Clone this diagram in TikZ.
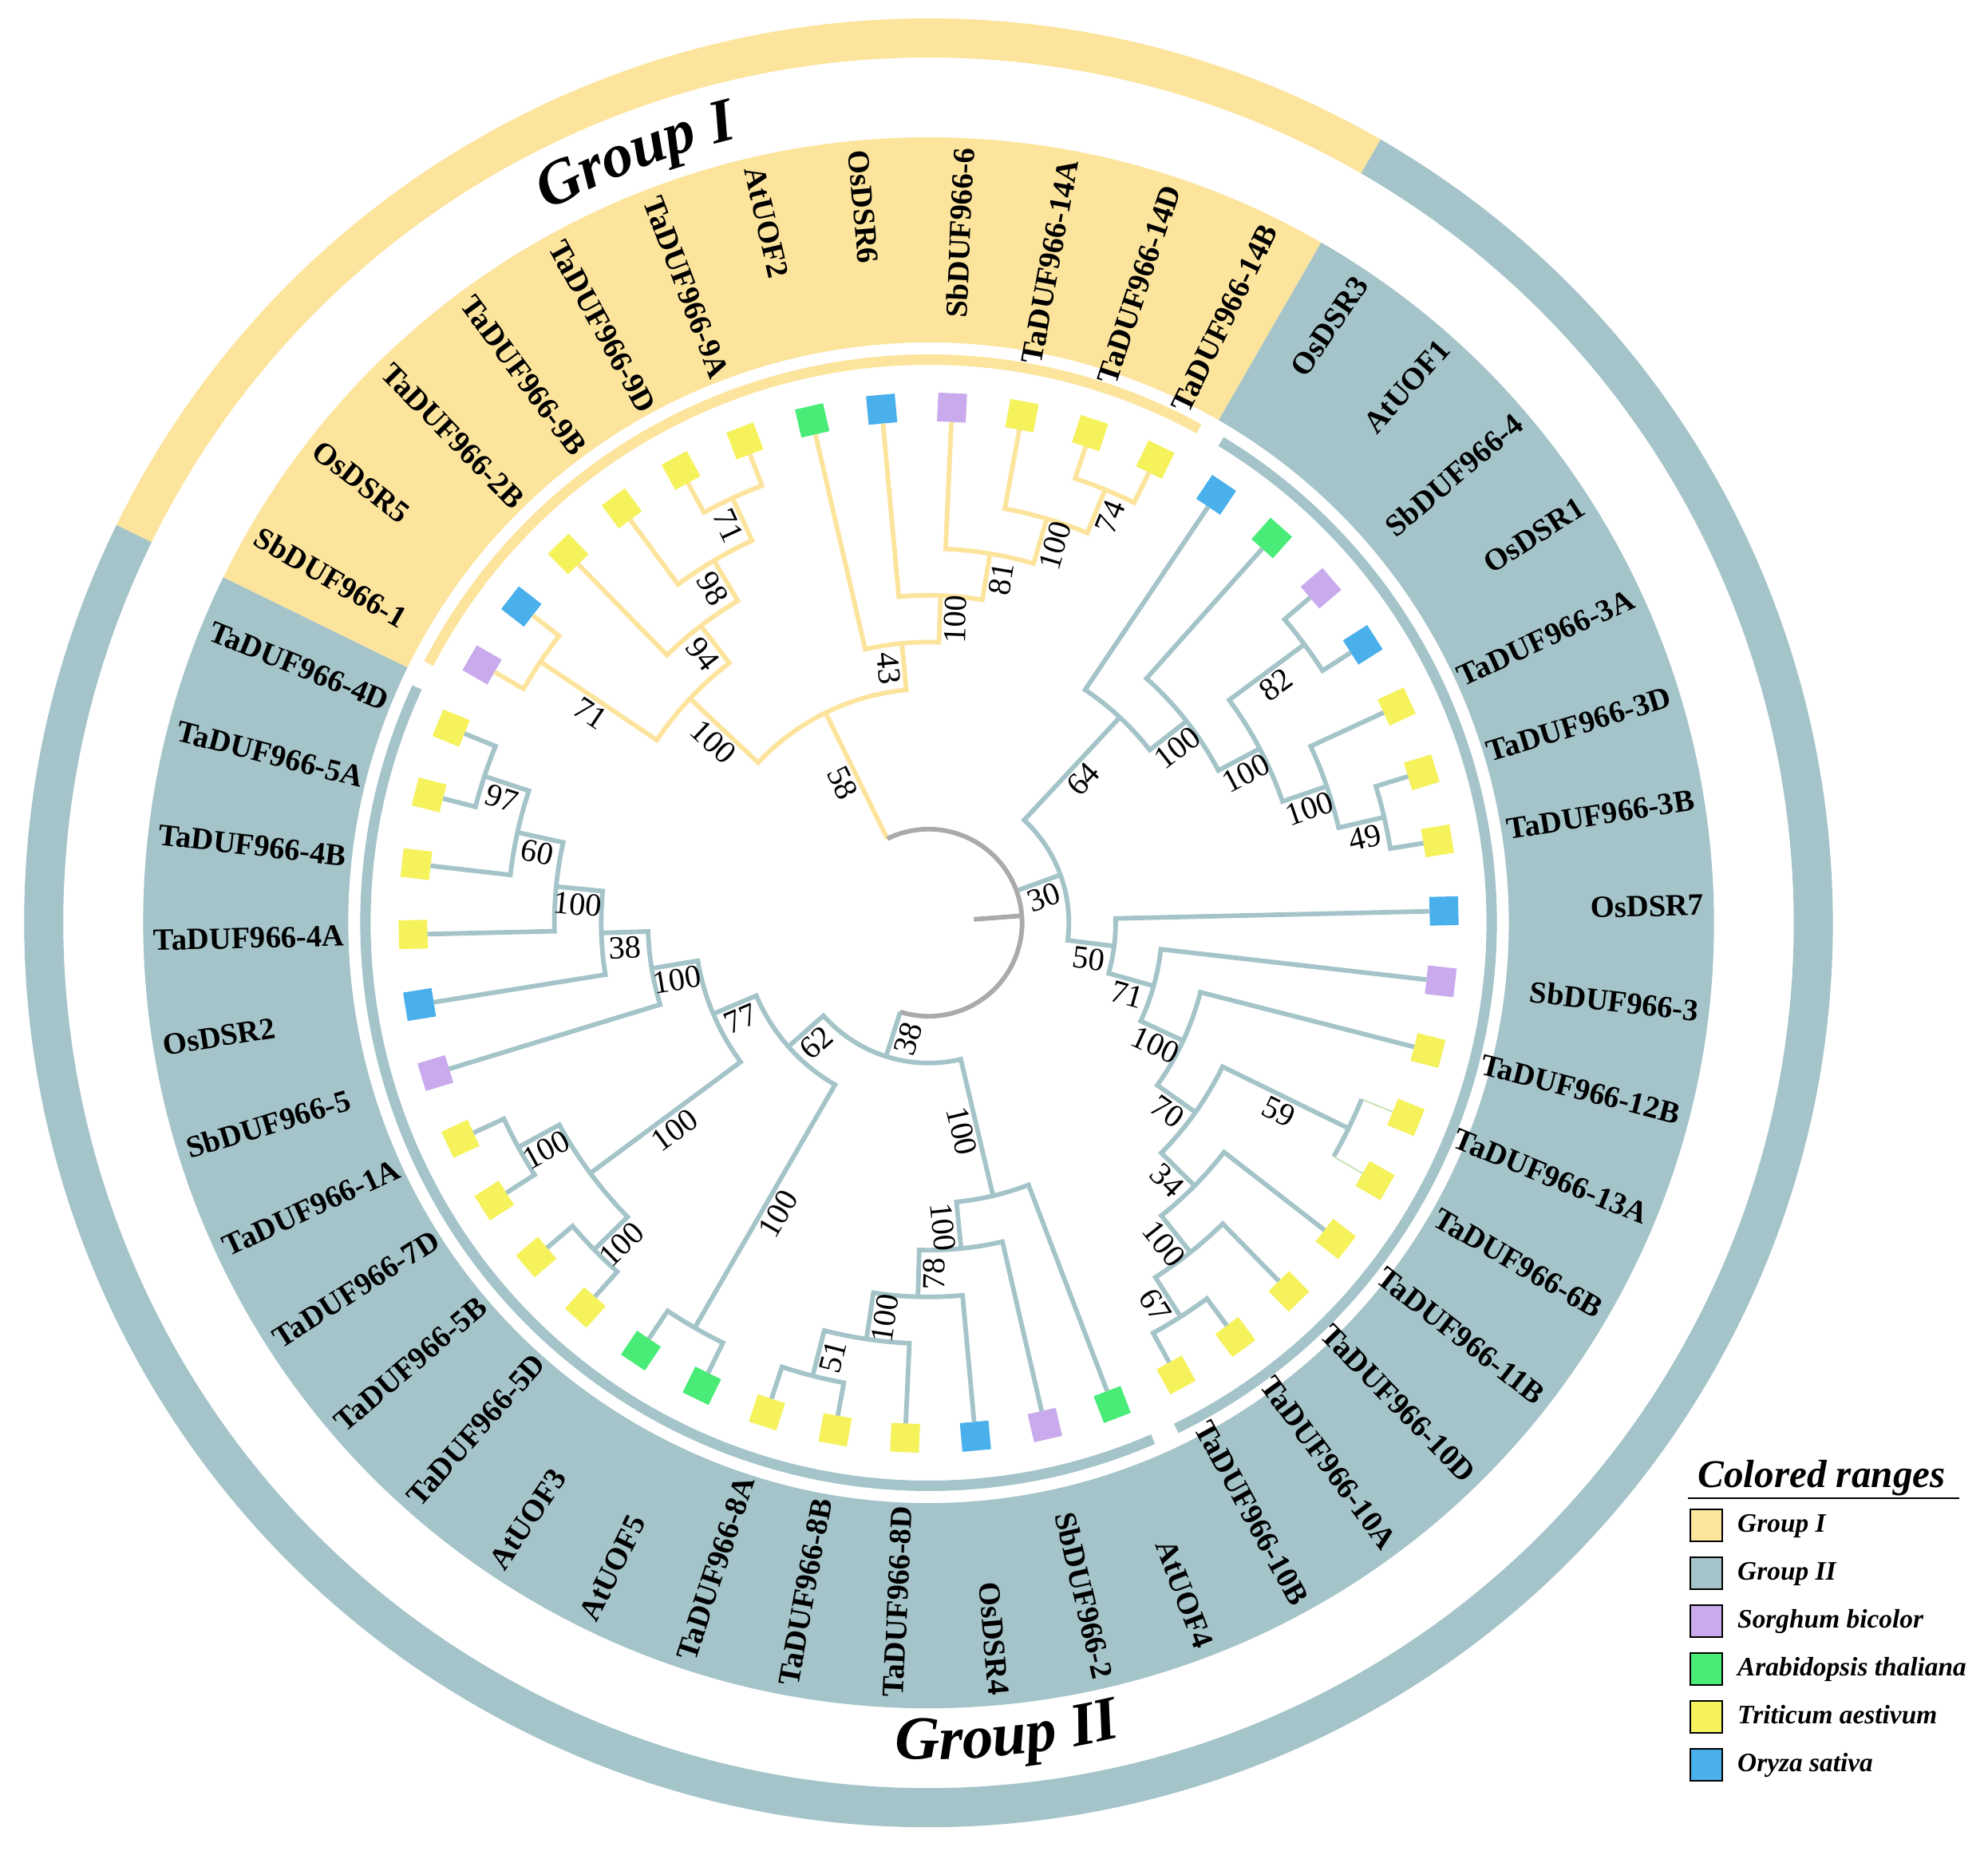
\documentclass[tikz,border=0pt]{standalone}
\usepackage{fontspec}
\setmainfont{Liberation Serif}
\usetikzlibrary{decorations.text}
\definecolor{grpone}{RGB}{253,228,157}
\definecolor{grptwo}{RGB}{164,196,201}
\definecolor{rootgray}{RGB}{170,170,170}
\definecolor{spSb}{RGB}{201,170,236}
\definecolor{spAt}{RGB}{73,236,118}
\definecolor{spTa}{RGB}{245,242,92}
\definecolor{spOs}{RGB}{73,176,236}
\definecolor{palegreen}{RGB}{196,226,178}
\newcommand{\grpfont}{\fontsize{22}{26}\selectfont\bfseries\itshape}

\begin{document}
\begin{tikzpicture}[
        g1/.style={draw=grpone, line width=1.65pt},
        g2/.style={draw=grptwo, line width=1.65pt},
        rootln/.style={draw=rootgray, line width=1.65pt},
        leafsq/.style={minimum size=0.36cm, inner sep=0pt, outer sep=0pt},
        lblR/.style={font=\fontsize{11}{12}\selectfont\bfseries, anchor=east, inner sep=0pt},
        lblL/.style={font=\fontsize{11}{12}\selectfont\bfseries, anchor=west, inner sep=0pt},
        bs/.style={font=\fontsize{11.5}{13}\selectfont, midway, sloped, below, inner sep=0.8pt},
        lgbox/.style={draw=black, line width=0.8pt, minimum size=0.4cm, inner sep=0pt},
        lgtext/.style={font=\fontsize{9.5}{11}\selectfont\bfseries\itshape, anchor=base west, inner sep=0pt}
    ]
        \fill[white] (-11.635,-11.68) rectangle (13.275,11.56);
        \useasboundingbox (-11.635,-11.68) rectangle (13.275,11.56);

        \draw[grpone, line width=0.49cm] (60:11.085) arc[start angle=60, end angle=153.913, radius=11.085];
        \draw[grptwo, line width=0.49cm] (153.913:11.085) arc[start angle=153.913, end angle=420, radius=11.085];
        \fill[grpone] (60:7.27) arc[start angle=60, end angle=153.913, radius=7.27] -- (153.913:9.84) arc[start angle=153.913, end angle=60, radius=9.84] -- cycle;
        \fill[grptwo] (153.913:7.27) arc[start angle=153.913, end angle=420, radius=7.27] -- (420:9.84) arc[start angle=420, end angle=153.913, radius=9.84] -- cycle;
        \draw[grpone, line width=0.13cm] (61.3:7.055) arc[start angle=61.3, end angle=152.6, radius=7.055];
        \draw[grptwo, line width=0.13cm] (155.3:7.055) arc[start angle=155.3, end angle=293.5, radius=7.055];
        \draw[grptwo, line width=0.13cm] (296.1:7.055) arc[start angle=296.1, end angle=418.7, radius=7.055];

        \path[decorate, decoration={text along path, text align=center, text={|\grpfont|Group I}}] (140:10.12) arc[start angle=140, end angle=81.8, radius=10.12];
        \path[decorate, decoration={text along path, text align=center, text={|\grpfont|Group II}}] (245:10.48) arc[start angle=245, end angle=306, radius=10.48];

        \node[leafsq, fill=spSb, rotate=150] (sb1) at (150:6.46) {}; \node[lblL, rotate=330] (sb1t) at (150:9.72) {SbDUF966-1};
        \node[leafsq, fill=spOs, rotate=142.174] (os5) at (142.174:6.46) {}; \node[lblL, rotate=322.174] (os5t) at (142.174:9.72) {OsDSR5};
        \node[leafsq, fill=spTa, rotate=134.348] (ta2b) at (134.348:6.46) {}; \node[lblL, rotate=314.348] (ta2bt) at (134.348:9.72) {TaDUF966-2B};
        \node[leafsq, fill=spTa, rotate=126.522] (ta9b) at (126.522:6.46) {}; \node[lblL, rotate=306.522] (ta9bt) at (126.522:9.72) {TaDUF966-9B};
        \node[leafsq, fill=spTa, rotate=118.696] (ta9d) at (118.696:6.46) {}; \node[lblL, rotate=298.696] (ta9dt) at (118.696:9.72) {TaDUF966-9D};
        \node[leafsq, fill=spTa, rotate=110.870] (ta9a) at (110.870:6.46) {}; \node[lblL, rotate=290.870] (ta9at) at (110.870:9.72) {TaDUF966-9A};
        \node[leafsq, fill=spAt, rotate=103.043] (at2) at (103.043:6.46) {}; \node[lblL, rotate=283.043] (at2t) at (103.043:9.72) {AtUOF2};
        \node[leafsq, fill=spOs, rotate=95.217] (os6) at (95.217:6.46) {}; \node[lblL, rotate=275.217] (os6t) at (95.217:9.72) {OsDSR6};
        \node[leafsq, fill=spSb, rotate=87.391] (sb6) at (87.391:6.46) {}; \node[lblR, rotate=87.391] (sb6t) at (87.391:9.72) {SbDUF966-6};
        \node[leafsq, fill=spTa, rotate=79.565] (ta14a) at (79.565:6.46) {}; \node[lblR, rotate=79.565] (ta14at) at (79.565:9.72) {TaDUF966-14A};
        \node[leafsq, fill=spTa, rotate=71.739] (ta14d) at (71.739:6.46) {}; \node[lblR, rotate=71.739] (ta14dt) at (71.739:9.72) {TaDUF966-14D};
        \node[leafsq, fill=spTa, rotate=63.913] (ta14b) at (63.913:6.46) {}; \node[lblR, rotate=63.913] (ta14bt) at (63.913:9.72) {TaDUF966-14B};
        \node[leafsq, fill=spOs, rotate=56.087] (os3) at (56.087:6.46) {}; \node[lblR, rotate=56.087] (os3t) at (56.087:9.72) {OsDSR3};
        \node[leafsq, fill=spAt, rotate=48.261] (at1) at (48.261:6.46) {}; \node[lblR, rotate=48.261] (at1t) at (48.261:9.72) {AtUOF1};
        \node[leafsq, fill=spSb, rotate=40.435] (sb4) at (40.435:6.46) {}; \node[lblR, rotate=40.435] (sb4t) at (40.435:9.72) {SbDUF966-4};
        \node[leafsq, fill=spOs, rotate=32.609] (os1) at (32.609:6.46) {}; \node[lblR, rotate=32.609] (os1t) at (32.609:9.72) {OsDSR1};
        \node[leafsq, fill=spTa, rotate=24.783] (ta3a) at (24.783:6.46) {}; \node[lblR, rotate=24.783] (ta3at) at (24.783:9.72) {TaDUF966-3A};
        \node[leafsq, fill=spTa, rotate=16.957] (ta3d) at (16.957:6.46) {}; \node[lblR, rotate=16.957] (ta3dt) at (16.957:9.72) {TaDUF966-3D};
        \node[leafsq, fill=spTa, rotate=9.130] (ta3b) at (9.130:6.46) {}; \node[lblR, rotate=9.130] (ta3bt) at (9.130:9.72) {TaDUF966-3B};
        \node[leafsq, fill=spOs, rotate=1.304] (os7) at (1.304:6.46) {}; \node[lblR, rotate=1.304] (os7t) at (1.304:9.72) {OsDSR7};
        \node[leafsq, fill=spSb, rotate=-6.522] (sb3) at (-6.522:6.46) {}; \node[lblR, rotate=-6.522] (sb3t) at (-6.522:9.72) {SbDUF966-3};
        \node[leafsq, fill=spTa, rotate=-14.348] (ta12b) at (-14.348:6.46) {}; \node[lblR, rotate=-14.348] (ta12bt) at (-14.348:9.72) {TaDUF966-12B};
        \node[leafsq, fill=spTa, rotate=-22.174] (ta13a) at (-22.174:6.46) {}; \node[lblR, rotate=-22.174] (ta13at) at (-22.174:9.72) {TaDUF966-13A};
        \node[leafsq, fill=spTa, rotate=-30] (ta6b) at (-30:6.46) {}; \node[lblR, rotate=-30] (ta6bt) at (-30:9.72) {TaDUF966-6B};
        \node[leafsq, fill=spTa, rotate=-37.826] (ta11b) at (-37.826:6.46) {}; \node[lblR, rotate=-37.826] (ta11bt) at (-37.826:9.72) {TaDUF966-11B};
        \node[leafsq, fill=spTa, rotate=-45.652] (ta10d) at (-45.652:6.46) {}; \node[lblR, rotate=-45.652] (ta10dt) at (-45.652:9.72) {TaDUF966-10D};
        \node[leafsq, fill=spTa, rotate=-53.478] (ta10a) at (-53.478:6.46) {}; \node[lblR, rotate=-53.478] (ta10at) at (-53.478:9.72) {TaDUF966-10A};
        \node[leafsq, fill=spTa, rotate=-61.304] (ta10b) at (-61.304:6.46) {}; \node[lblR, rotate=-61.304] (ta10bt) at (-61.304:9.72) {TaDUF966-10B};
        \node[leafsq, fill=spAt, rotate=-69.130] (at4) at (-69.130:6.46) {}; \node[lblR, rotate=-69.130] (at4t) at (-69.130:9.72) {AtUOF4};
        \node[leafsq, fill=spSb, rotate=-76.957] (sb2) at (-76.957:6.46) {}; \node[lblR, rotate=-76.957] (sb2t) at (-76.957:9.72) {SbDUF966-2};
        \node[leafsq, fill=spOs, rotate=-84.783] (os4) at (-84.783:6.46) {}; \node[lblR, rotate=-84.783] (os4t) at (-84.783:9.72) {OsDSR4};
        \node[leafsq, fill=spTa, rotate=-92.609] (ta8d) at (-92.609:6.46) {}; \node[lblL, rotate=87.391] (ta8dt) at (-92.609:9.72) {TaDUF966-8D};
        \node[leafsq, fill=spTa, rotate=-100.435] (ta8b) at (-100.435:6.46) {}; \node[lblL, rotate=79.565] (ta8bt) at (-100.435:9.72) {TaDUF966-8B};
        \node[leafsq, fill=spTa, rotate=-108.261] (ta8a) at (-108.261:6.46) {}; \node[lblL, rotate=71.739] (ta8at) at (-108.261:9.72) {TaDUF966-8A};
        \node[leafsq, fill=spAt, rotate=-116.087] (at5) at (-116.087:6.46) {}; \node[lblL, rotate=63.913] (at5t) at (-116.087:9.72) {AtUOF5};
        \node[leafsq, fill=spAt, rotate=-123.913] (at3) at (-123.913:6.46) {}; \node[lblL, rotate=56.087] (at3t) at (-123.913:9.72) {AtUOF3};
        \node[leafsq, fill=spTa, rotate=-131.739] (ta5d) at (-131.739:6.46) {}; \node[lblL, rotate=48.261] (ta5dt) at (-131.739:9.72) {TaDUF966-5D};
        \node[leafsq, fill=spTa, rotate=-139.565] (ta5b) at (-139.565:6.46) {}; \node[lblL, rotate=40.435] (ta5bt) at (-139.565:9.72) {TaDUF966-5B};
        \node[leafsq, fill=spTa, rotate=-147.391] (ta7d) at (-147.391:6.46) {}; \node[lblL, rotate=32.609] (ta7dt) at (-147.391:9.72) {TaDUF966-7D};
        \node[leafsq, fill=spTa, rotate=-155.217] (ta1a) at (-155.217:6.46) {}; \node[lblL, rotate=24.783] (ta1at) at (-155.217:9.72) {TaDUF966-1A};
        \node[leafsq, fill=spSb, rotate=-163.043] (sb5) at (-163.043:6.46) {}; \node[lblL, rotate=16.957] (sb5t) at (-163.043:9.72) {SbDUF966-5};
        \node[leafsq, fill=spOs, rotate=-170.870] (os2) at (-170.870:6.46) {}; \node[lblL, rotate=9.130] (os2t) at (-170.870:9.72) {OsDSR2};
        \node[leafsq, fill=spTa, rotate=-178.696] (ta4a) at (-178.696:6.46) {}; \node[lblL, rotate=1.304] (ta4at) at (-178.696:9.72) {TaDUF966-4A};
        \node[leafsq, fill=spTa, rotate=-186.522] (ta4b) at (-186.522:6.46) {}; \node[lblL, rotate=-6.522] (ta4bt) at (-186.522:9.72) {TaDUF966-4B};
        \node[leafsq, fill=spTa, rotate=-194.348] (ta5a) at (-194.348:6.46) {}; \node[lblL, rotate=-14.348] (ta5at) at (-194.348:9.72) {TaDUF966-5A};
        \node[leafsq, fill=spTa, rotate=-202.174] (ta4d) at (-202.174:6.46) {}; \node[lblL, rotate=-22.174] (ta4dt) at (-202.174:9.72) {TaDUF966-4D};

        \coordinate (n71a) at (146.087:5.860);
        \coordinate (n71b) at (114.783:5.860);
        \coordinate (n98) at (120.652:5.274);
        \coordinate (n94) at (127.500:4.688);
        \coordinate (n100a) at (136.793:4.102);
        \coordinate (n74) at (67.826:5.860);
        \coordinate (n100c) at (73.696:5.274);
        \coordinate (n81) at (80.543:4.688);
        \coordinate (n100b) at (87.880:4.102);
        \coordinate (n43) at (95.462:3.516);
        \coordinate (nG1) at (116.128:2.930);
        \coordinate (n82) at (36.522:5.860);
        \coordinate (n49) at (13.043:5.860);
        \coordinate (n100g) at (18.913:5.274);
        \coordinate (n100f) at (27.717:4.688);
        \coordinate (n100e) at (37.989:4.102);
        \coordinate (n64) at (47.038:3.516);
        \coordinate (n67) at (-57.391:5.860);
        \coordinate (n100q) at (-51.522:5.274);
        \coordinate (n34) at (-44.674:4.688);
        \coordinate (n59) at (-26.087:5.860);
        \coordinate (n70) at (-35.380:4.102);
        \coordinate (n100d) at (-24.864:3.516);
        \coordinate (n71c) at (-15.693:2.930);
        \coordinate (n50) at (-7.194:2.344);
        \coordinate (n30) at (19.922:1.758);
        \coordinate (n51) at (-104.348:5.860);
        \coordinate (n100j) at (-98.478:5.274);
        \coordinate (n78) at (-91.630:4.688);
        \coordinate (n100i) at (-84.293:4.102);
        \coordinate (n100h) at (-76.712:3.516);
        \coordinate (n100k) at (-120.000:5.860);
        \coordinate (n100n) at (-135.652:5.860);
        \coordinate (n100m) at (-151.304:5.860);
        \coordinate (n100l) at (-143.478:5.274);
        \coordinate (n97) at (-198.261:5.860);
        \coordinate (n60) at (-192.391:5.274);
        \coordinate (n100p) at (-185.543:4.688);
        \coordinate (n38b) at (-178.207:4.102);
        \coordinate (n100o) at (-170.625:3.516);
        \coordinate (n77) at (-157.052:2.930);
        \coordinate (n62) at (-138.526:2.344);
        \coordinate (n38) at (-107.619:1.758);
        \coordinate (root) at (4.254:0.57);

        \draw[g1] (sb1) -- (150:5.86) arc[start angle=150, end angle=142.174, radius=5.86] -- (os5);
        \draw[g1] (ta9d) -- (118.696:5.86) arc[start angle=118.696, end angle=110.870, radius=5.86] -- (ta9a);
        \draw[g1] (ta9b) -- (126.522:5.274) arc[start angle=126.522, end angle=114.783, radius=5.274] -- node[bs]{71} (n71b);
        \draw[g1] (ta2b) -- (134.348:4.688) arc[start angle=134.348, end angle=120.652, radius=4.688] -- node[bs]{98} (n98);
        \draw[g1] (n71a) -- node[bs]{71} (146.087:4.102) arc[start angle=146.087, end angle=127.5, radius=4.102] -- node[bs]{94} (n94);
        \draw[g1] (ta14d) -- (71.739:5.86) arc[start angle=71.739, end angle=63.913, radius=5.86] -- (ta14b);
        \draw[g1] (ta14a) -- (79.565:5.274) arc[start angle=79.565, end angle=67.826, radius=5.274] -- node[bs]{74} (n74);
        \draw[g1] (sb6) -- (87.391:4.688) arc[start angle=87.391, end angle=73.696, radius=4.688] -- node[bs]{100} (n100c);
        \draw[g1] (os6) -- (95.217:4.102) arc[start angle=95.217, end angle=80.543, radius=4.102] -- node[bs]{81} (n81);
        \draw[g1] (at2) -- (103.043:3.516) arc[start angle=103.043, end angle=87.880, radius=3.516] -- node[bs]{100} (n100b);
        \draw[g1] (n100a) -- node[bs]{100} (136.793:2.930) arc[start angle=136.793, end angle=95.462, radius=2.930] -- node[bs]{43} (n43);

        \draw[g2] (sb4) -- (40.435:5.86) arc[start angle=40.435, end angle=32.609, radius=5.86] -- (os1);
        \draw[g2] (ta3d) -- (16.957:5.86) arc[start angle=16.957, end angle=9.130, radius=5.86] -- (ta3b);
        \draw[g2] (ta3a) -- (24.783:5.274) arc[start angle=24.783, end angle=13.043, radius=5.274] -- node[bs]{49} (n49);
        \draw[g2] (n82) -- node[bs]{82} (36.522:4.688) arc[start angle=36.522, end angle=18.913, radius=4.688] -- node[bs]{100} (n100g);
        \draw[g2] (at1) -- (48.261:4.102) arc[start angle=48.261, end angle=27.717, radius=4.102] -- node[bs]{100} (n100f);
        \draw[g2] (os3) -- (56.087:3.516) arc[start angle=56.087, end angle=37.989, radius=3.516] -- node[bs]{100} (n100e);
        \draw[g2] (ta10a) -- (-53.478:5.86) arc[start angle=-53.478, end angle=-61.304, radius=5.86] -- (ta10b);
        \draw[g2] (ta10d) -- (-45.652:5.274) arc[start angle=-45.652, end angle=-57.391, radius=5.274] -- node[bs]{67} (n67);
        \draw[g2] (ta11b) -- (-37.826:4.688) arc[start angle=-37.826, end angle=-51.522, radius=4.688] -- node[bs]{100} (n100q);
        \draw[palegreen, line width=0.5pt] (ta13a) -- (-22.174:5.86);
        \draw[g2] (-22.174:5.86) arc[start angle=-22.174, end angle=-30, radius=5.86];
        \draw[palegreen, line width=0.5pt] (-30:5.86) -- (ta6b);
        \draw[g2] (n59) -- node[bs]{59} (-26.087:4.102) arc[start angle=-26.087, end angle=-44.674, radius=4.102] -- node[bs]{34} (n34);
        \draw[g2] (ta12b) -- (-14.348:3.516) arc[start angle=-14.348, end angle=-35.380, radius=3.516] -- node[bs]{70} (n70);
        \draw[g2] (sb3) -- (-6.522:2.930) arc[start angle=-6.522, end angle=-24.864, radius=2.930] -- node[bs]{100} (n100d);
        \draw[g2] (os7) -- (1.304:2.344) arc[start angle=1.304, end angle=-15.693, radius=2.344] -- node[bs]{71} (n71c);
        \draw[g2] (n64) -- node[bs]{64} (47.038:1.758) arc[start angle=47.038, end angle=-7.194, radius=1.758] -- node[bs]{50} (n50);

        \draw[g2] (ta8b) -- (-100.435:5.86) arc[start angle=-100.435, end angle=-108.261, radius=5.86] -- (ta8a);
        \draw[g2] (ta8d) -- (-92.609:5.274) arc[start angle=-92.609, end angle=-104.348, radius=5.274] -- node[bs]{51} (n51);
        \draw[g2] (os4) -- (-84.783:4.688) arc[start angle=-84.783, end angle=-98.478, radius=4.688] -- node[bs]{100} (n100j);
        \draw[g2] (sb2) -- (-76.957:4.102) arc[start angle=-76.957, end angle=-91.630, radius=4.102] -- node[bs]{78} (n78);
        \draw[g2] (at4) -- (-69.130:3.516) arc[start angle=-69.130, end angle=-84.293, radius=3.516] -- node[bs]{100} (n100i);
        \draw[g2] (at5) -- (-116.087:5.86) arc[start angle=-116.087, end angle=-123.913, radius=5.86] -- (at3);
        \draw[g2] (ta5d) -- (-131.739:5.86) arc[start angle=-131.739, end angle=-139.565, radius=5.86] -- (ta5b);
        \draw[g2] (ta7d) -- (-147.391:5.86) arc[start angle=-147.391, end angle=-155.217, radius=5.86] -- (ta1a);
        \draw[g2] (n100n) -- node[bs]{100} (-135.652:5.274) arc[start angle=-135.652, end angle=-151.304, radius=5.274] -- node[bs]{100} (n100m);
        \draw[g2] (ta5a) -- (-194.348:5.86) arc[start angle=-194.348, end angle=-202.174, radius=5.86] -- (ta4d);
        \draw[g2] (ta4b) -- (-186.522:5.274) arc[start angle=-186.522, end angle=-198.261, radius=5.274] -- node[bs]{97} (n97);
        \draw[g2] (ta4a) -- (-178.696:4.688) arc[start angle=-178.696, end angle=-192.391, radius=4.688] -- node[bs]{60} (n60);
        \draw[g2] (os2) -- (-170.870:4.102) arc[start angle=-170.870, end angle=-185.543, radius=4.102] -- node[bs]{100} (n100p);
        \draw[g2] (sb5) -- (-163.043:3.516) arc[start angle=-163.043, end angle=-178.207, radius=3.516] -- node[bs]{38} (n38b);
        \draw[g2] (n100l) -- node[bs]{100} (-143.478:2.930) arc[start angle=-143.478, end angle=-170.625, radius=2.930] -- node[bs]{100} (n100o);
        \draw[g2] (n100k) -- node[bs]{100} (-120:2.344) arc[start angle=-120, end angle=-157.052, radius=2.344] -- node[bs]{77} (n77);
        \draw[g2] (n100h) -- node[bs]{100} (-76.712:1.758) arc[start angle=-76.712, end angle=-138.526, radius=1.758] -- node[bs]{62} (n62);

        \draw[g1] (nG1) -- node[bs]{58} (116.128:1.172);
        \draw[g2] (n30) -- node[bs]{30} (19.922:1.172);
        \draw[g2] (n38) -- node[bs]{38} (-107.619:1.172);
        \draw[rootln] (116.128:1.172) arc[start angle=116.128, end angle=-107.619, radius=1.172];
        \draw[rootln] (root) -- (4.254:1.172);

        \node[font=\fontsize{14}{16}\selectfont\bfseries\itshape, anchor=base, inner sep=0pt] (lgtitle) at (11.19,-7.07) {Colored ranges};
        \coordinate (lgl) at (9.515,-7.21);
        \coordinate (lgr) at (12.915,-7.21);
        \draw[line width=0.8pt] (lgl) -- (lgr);
        \node[lgbox, fill=grpone] (lgg1) at (9.745,-7.55) {};
        \node[lgtext] (lgg1t) at (10.13,-7.63) {Group I};
        \node[lgbox, fill=grptwo] (lgg2) at (9.745,-8.15) {};
        \node[lgtext] (lgg2t) at (10.13,-8.23) {Group II};
        \node[lgbox, fill=spSb] (lgsb) at (9.745,-8.75) {};
        \node[lgtext] (lgsbt) at (10.13,-8.83) {Sorghum bicolor};
        \node[lgbox, fill=spAt] (lgat) at (9.745,-9.35) {};
        \node[lgtext] (lgatt) at (10.13,-9.43) {Arabidopsis thaliana};
        \node[lgbox, fill=spTa] (lgta) at (9.745,-9.95) {};
        \node[lgtext] (lgtat) at (10.13,-10.03) {Triticum aestivum};
        \node[lgbox, fill=spOs] (lgos) at (9.745,-10.55) {};
        \node[lgtext] (lgost) at (10.13,-10.63) {Oryza sativa};
    \end{tikzpicture}
\end{document}
